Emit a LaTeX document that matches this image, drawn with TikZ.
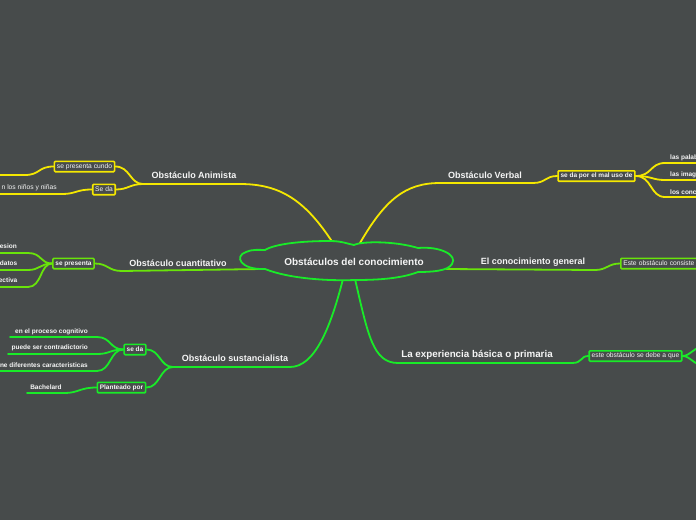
\documentclass[tikz,border=0pt]{standalone}
\usepackage{fontspec}
\setmainfont{Liberation Sans}
\definecolor{bg}{RGB}{71,75,75}
\definecolor{yel}{RGB}{245,232,0}
\definecolor{grn}{RGB}{25,235,40}
\definecolor{lim}{RGB}{105,228,10}
\definecolor{txt}{RGB}{245,245,245}
\tikzset{
  conn/.style={line width=1.8pt, line cap=round},
  mainlbl/.style={text=txt, font=\bfseries\fontsize{9}{10}\selectfont, inner sep=0pt},
  rootlbl/.style={text=txt, font=\bfseries\fontsize{10}{12}\selectfont, inner sep=0pt},
  boxr/.style={draw, line width=1.6pt, fill=bg, text=txt, font=\fontsize{6.7}{8}\selectfont,
    inner xsep=2.5pt, inner ysep=2pt, text height=5pt, text depth=1.4pt, rounded corners=1pt},
  boxb/.style={boxr, font=\bfseries\fontsize{6.5}{8}\selectfont},
  leafb/.style={text=txt, font=\bfseries\fontsize{6.5}{8}\selectfont, inner sep=0pt},
  leafr/.style={text=txt, font=\fontsize{6.7}{8}\selectfont, inner sep=0pt},
  cloudline/.style={draw=grn, line width=1.8pt, fill=bg}
}
\begin{document}
\begin{tikzpicture}[x=1pt,y=-1pt]
\useasboundingbox (0,0) rectangle (696,520);
\fill[bg] (0,0) rectangle (696,520);
\clip (0,0) rectangle (696,520);

% attachment points on the central cloud
\coordinate (cA) at (333,243);
\coordinate (cV) at (360,243);
\coordinate (cQ) at (262,269);
\coordinate (cG) at (446,269);
\coordinate (cS) at (343,279);
\coordinate (cE) at (355,279);

% ---------- Obstaculo Animista (yellow) ----------
\node[mainlbl] (anim) at (194,175) {Obstáculo Animista};
\coordinate (anR) at (240,184);
\coordinate (anL) at (143,184);
\node[boxr, draw=yel] (spc) at (84.5,166.5) {se presenta cundo};
\node[boxr, draw=yel] (sda) at (104,189.5) {Se da};
\node[leafr, anchor=east] (ninos) at (57,188) {n los niños y niñas};
\coordinate (l1) at (-3,175);
\coordinate (l2) at (-3,194);
\draw[conn, yel] (cA) .. controls (305,200) and (280,184) .. (anR) -- (anL);
\draw[conn, yel] (anL) .. controls (130,184) and (130,166.5) .. (spc.east);
\draw[conn, yel] (anL) .. controls (130,184) and (128,189.5) .. (sda.east);
\draw[conn, yel] (spc.west) .. controls (38,166.5) and (40,175) .. (25,175) -- (l1);
\draw[conn, yel] (sda.west) .. controls (76,189.5) and (76,194) .. (62,194) -- (l2);

% ---------- Obstaculo cuantitativo (lime) ----------
\node[mainlbl] (cuan) at (178,263) {Obstáculo cuantitativo};
\coordinate (cuL) at (122,271);
\node[boxb, draw=lim] (spr) at (73.5,263.5) {se presenta};
\node[leafb, anchor=east] (q1) at (17,246) {esion};
\node[leafb, anchor=east] (q2) at (17.5,263) {datos};
\node[leafb, anchor=east] (q3) at (17.5,280) {ectiva};
\coordinate (m1) at (-3,253);
\coordinate (m2) at (-3,270);
\coordinate (m3) at (-3,287);
\draw[conn, lim] (cQ) -- (cuL) .. controls (108,271) and (108,263.5) .. (spr.east);
\draw[conn, lim] (spr.west) .. controls (40,263.5) and (42,253) .. (28,253) -- (m1);
\draw[conn, lim] (spr.west) .. controls (40,263.5) and (40,270) .. (28,270) -- (m2);
\draw[conn, lim] (spr.west) .. controls (40,263.5) and (42,287) .. (28,287) -- (m3);

% ---------- Obstaculo sustancialista (green) ----------
\node[mainlbl] (sust) at (235,358) {Obstáculo sustancialista};
\coordinate (suR) at (290,367);
\coordinate (suL) at (173,367);
\node[boxb, draw=grn] (sdd) at (135,349.5) {se da};
\node[boxb, draw=grn] (plt) at (121.5,387.5) {Planteado por};
\node[leafb, anchor=east] (s1) at (88,332) {en el proceso cognitivo};
\node[leafb, anchor=east] (s2) at (88,348) {puede ser contradictorio};
\node[leafb, anchor=east] (s3) at (88,365) {ne diferentes caracteristicas};
\node[leafb] (bach) at (46,387) {Bachelard};
\coordinate (n1) at (10,337);
\coordinate (n2) at (8,354);
\coordinate (n3) at (-3,371);
\coordinate (n4) at (27,393);
\draw[conn, grn] (cS) .. controls (330,330) and (314,367) .. (suR) -- (suL);
\draw[conn, grn] (suL) .. controls (160,367) and (160,349.5) .. (sdd.east);
\draw[conn, grn] (suL) .. controls (160,367) and (160,387.5) .. (plt.east);
\draw[conn, grn] (sdd.west) .. controls (110,349.5) and (111,337) .. (97,337) -- (n1);
\draw[conn, grn] (sdd.west) .. controls (110,349.5) and (110,354) .. (97,354) -- (n2);
\draw[conn, grn] (sdd.west) .. controls (110,349.5) and (111,371) .. (97,371) -- (n3);
\draw[conn, grn] (plt.west) .. controls (80,387.5) and (78,393) .. (65,393) -- (n4);

% ---------- Obstaculo Verbal (yellow) ----------
\node[mainlbl] (verb) at (485,175) {Obstáculo Verbal};
\coordinate (veL) at (440,183);
\coordinate (veR) at (533,183);
\node[boxb, draw=yel] (mal) at (596.5,176) {se da por el mal uso de};
\node[leafb, anchor=west] (v1) at (670,158) {las palab};
\node[leafb, anchor=west] (v2) at (670,175) {las imag};
\node[leafb, anchor=west] (v3) at (670,192) {los conc};
\coordinate (r1) at (700,163);
\coordinate (r2) at (700,180);
\coordinate (r3) at (700,197);
\draw[conn, yel] (cV) .. controls (385,200) and (405,183) .. (veL) -- (veR) .. controls (546,183) and (545,176) .. (mal.west);
\draw[conn, yel] (mal.east) .. controls (652,176) and (650,163) .. (665,163) -- (r1);
\draw[conn, yel] (mal.east) .. controls (652,176) and (652,180) .. (665,180) -- (r2);
\draw[conn, yel] (mal.east) .. controls (652,176) and (650,197) .. (665,197) -- (r3);

% ---------- El conocimiento general (lime) ----------
\node[mainlbl] (gen) at (533,262) {El conocimiento general};
\coordinate (geR) at (595,270);
\node[boxr, draw=lim, anchor=west, text width=95pt, align=left] (eoc) at (620,263.5) {Este obstáculo consiste};
\draw[conn, lim] (cG) -- (geR) .. controls (607,270) and (608,263.5) .. (eoc.west);

% ---------- La experiencia basica o primaria (green) ----------
\node[mainlbl, font=\bfseries\fontsize{9.8}{11}\selectfont] (expb) at (477,355) {La experiencia básica o primaria};
\coordinate (exL) at (398,363);
\coordinate (exR) at (572,363);
\node[boxr, draw=grn] (deb) at (635.5,356) {este obstáculo se debe a que};
\coordinate (e1) at (706,345);
\coordinate (e2) at (706,367);
\draw[conn, grn] (cE) .. controls (368,335) and (373,363) .. (exL) -- (exR) .. controls (583,363) and (580,356) .. (deb.west);
\draw[conn, grn] (deb.east) .. controls (690,356) and (694,347) .. (e1);
\draw[conn, grn] (deb.east) .. controls (690,356) and (694,365) .. (e2);

% ---------- central cloud ----------
\path[cloudline] (265,250) .. controls (275,244) and (300,241) .. (330,241)
  .. controls (342,241) and (348,244) .. (354,245)
  .. controls (362,241) and (395,241) .. (418,248)
  .. controls (440,246) and (458,255) .. (452,264)
  .. controls (448,271) and (432,272) .. (418,272)
  .. controls (400,279) and (375,280) .. (355,280)
  .. controls (330,281) and (290,279) .. (265,269)
  .. controls (240,270) and (234,256) .. (246,252)
  .. controls (252,249) and (260,250) .. (265,250) -- cycle;
\node[rootlbl] (root) at (354,262) {Obstáculos del conocimiento};
\end{tikzpicture}
\end{document}
